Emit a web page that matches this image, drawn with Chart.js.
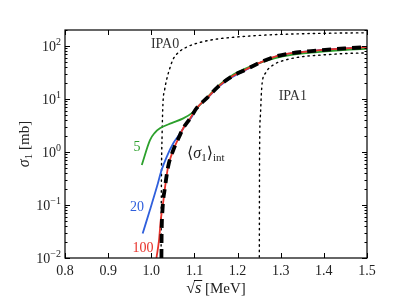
<!DOCTYPE html>
<html>
<head>
<meta charset="utf-8">
<script src="https://cdn.jsdelivr.net/npm/chart.js@4"></script>
<style>
  html, body { margin: 0; padding: 0; background: #fff; }
  #wrap { width: 407px; height: 305px; }
</style>
</head>
<body>
<div id="wrap"><canvas id="sigma"></canvas></div>
<script>
// values
const xTicks = [0.8, 0.9, 1.0, 1.1, 1.2, 1.3, 1.4, 1.5];
const yTicks = [0.01, 0.1, 1, 10, 100];
const yTickExp = ['-2', '-1', '0', '1', '2'];

const intX = [1.0235, 1.024, 1.026, 1.032, 1.039, 1.051, 1.063, 1.074, 1.090, 1.105, 1.132, 1.155, 1.186, 1.217, 1.248, 1.287, 1.325, 1.370, 1.420, 1.460, 1.500];
const intY = [0.01, 0.029, 0.081, 0.22, 0.53, 1.09, 1.81, 2.8, 4.3, 6.7, 11.0, 17.1, 26.3, 35.2, 47, 63, 73, 80, 87, 91, 95];

const n100X = [1.012, 1.018, 1.022, 1.028, 1.032, 1.039, 1.051, 1.063, 1.074, 1.090, 1.105, 1.132, 1.155, 1.186, 1.217, 1.248, 1.287, 1.325, 1.370, 1.420, 1.460, 1.500];
const n100Y = [0.01, 0.022, 0.052, 0.12, 0.22, 0.53, 1.09, 1.81, 2.8, 4.3, 6.7, 11.0, 17.1, 26.3, 35.2, 47, 63, 73, 80, 87, 91, 95];

const n20X = [0.980, 0.997, 1.013, 1.024, 1.036, 1.051, 1.067, 1.082, 1.094, 1.105, 1.132, 1.155, 1.186, 1.217, 1.248, 1.287, 1.325, 1.370, 1.420, 1.460, 1.500];
const n20Y = [0.029, 0.081, 0.22, 0.46, 0.82, 1.46, 2.25, 3.48, 4.6, 6.6, 10.8, 16.7, 25.5, 34.5, 46.5, 62.5, 72.5, 80, 87, 91, 94];

const n5X = [0.978, 0.997, 1.008, 1.020, 1.047, 1.074, 1.094, 1.105, 1.132, 1.155, 1.186, 1.217, 1.248, 1.287, 1.325, 1.370, 1.420, 1.460, 1.500];
const n5Y = [0.57, 1.68, 2.3, 2.8, 3.5, 4.3, 5.4, 6.7, 11.2, 17.6, 27.5, 37, 47, 59, 68, 75, 81, 85, 88];

const ipa0X = [1.0222, 1.0235, 1.025, 1.027, 1.031, 1.036, 1.043, 1.050, 1.065, 1.083, 1.110, 1.152, 1.200, 1.268, 1.350, 1.430, 1.500];
const ipa0Y = [0.001, 0.3, 2, 8, 15, 24, 38, 55, 78, 96, 115, 135, 148, 161, 170, 175, 177];

const ipa1X = [1.2502, 1.251, 1.253, 1.255, 1.257, 1.265, 1.283, 1.310, 1.345, 1.400, 1.450, 1.500];
const ipa1Y = [0.001, 1, 5, 12, 20, 31, 44, 54, 62, 68, 72, 74];

const labelText = ['IPA0', 'IPA1', '5', '20', '100'];
const labelX = [1.032, 1.328, 0.967, 0.967, 0.981];
const labelY = [109, 11, 1.24, 0.092, 0.0155];
const labelColor = ['#333', '#333', '#2ca02c', '#2f5fdc', '#e8322a'];

const GREEN = '#2ca02c', BLUE = '#2f5fdc', RED = '#e8322a';
const SERIF = '"Liberation Serif", "DejaVu Serif", serif';

function pts(xs, ys) { return xs.map((x, i) => ({x: x, y: ys[i]})); }

const decor = {
    id: 'decor',
    afterDatasetsDraw(chart) {
        const ctx = chart.ctx, a = chart.chartArea;
        const xs = chart.scales.x, ys = chart.scales.y;
        ctx.save();
        ctx.strokeStyle = '#000';
        ctx.lineWidth = 1.2;
        ctx.strokeRect(a.left, a.top, a.right - a.left, a.bottom - a.top);
        ctx.lineWidth = 1;
        ctx.beginPath();
        xTicks.forEach(v => {
            const p = Math.round(xs.getPixelForValue(v)) + 0.5;
            ctx.moveTo(p, a.bottom); ctx.lineTo(p, a.bottom - 5);
            ctx.moveTo(p, a.top); ctx.lineTo(p, a.top + 5);
        });
        for (let d = -2; d <= 2; d++) {
            for (let m = 1; m <= 9; m++) {
                const v = m * Math.pow(10, d);
                if (v > ys.max) continue;
                const p = Math.round(ys.getPixelForValue(v)) + 0.5;
                const len = m === 1 ? 5 : 2.5;
                ctx.moveTo(a.left, p); ctx.lineTo(a.left + len, p);
                ctx.moveTo(a.right, p); ctx.lineTo(a.right - len, p);
            }
        }
        ctx.stroke();

        // tick labels
        ctx.fillStyle = '#222';
        ctx.font = '14px ' + SERIF;
        ctx.textAlign = 'center';
        ctx.textBaseline = 'top';
        xTicks.forEach(v => ctx.fillText(v.toFixed(1), xs.getPixelForValue(v), a.bottom + 6));
        yTicks.forEach((v, i) => {
            const p = ys.getPixelForValue(v);
            ctx.font = '10px ' + SERIF;
            const ew = ctx.measureText(yTickExp[i].replace('-', '\u2212')).width;
            ctx.textAlign = 'left';
            ctx.textBaseline = 'alphabetic';
            ctx.fillText(yTickExp[i].replace('-', '\u2212'), a.left - 4 - ew, p - 1);
            ctx.font = '14px ' + SERIF;
            ctx.textAlign = 'right';
            ctx.fillText('10', a.left - 4 - ew, p + 5);
        });

        // axis titles
        ctx.fillStyle = '#222';
        ctx.save();
        ctx.translate(24, (a.top + a.bottom) / 2);
        ctx.rotate(-Math.PI / 2);
        ctx.textBaseline = 'alphabetic';
        ctx.textAlign = 'left';
        ctx.font = 'italic 16px ' + SERIF;
        const w1 = ctx.measureText('\u03c3').width;
        ctx.font = '11px ' + SERIF;
        const w2 = ctx.measureText('1').width;
        ctx.font = '15px ' + SERIF;
        const w3 = ctx.measureText(' [mb]').width;
        let x0 = -(w1 + w2 + w3) / 2;
        ctx.font = 'italic 16px ' + SERIF;
        ctx.fillText('\u03c3', x0, 5);
        ctx.font = '11px ' + SERIF;
        ctx.fillText('1', x0 + w1, 8);
        ctx.font = '15px ' + SERIF;
        ctx.fillText(' [mb]', x0 + w1 + w2, 5);
        ctx.restore();

        const cx = (a.left + a.right) / 2;
        ctx.textAlign = 'left';
        ctx.textBaseline = 'alphabetic';
        ctx.font = '16px ' + SERIF;
        const r = ctx.measureText('\u221a').width;
        ctx.font = 'italic 16px ' + SERIF;
        const sw = ctx.measureText('s').width;
        ctx.font = '15px ' + SERIF;
        const mw = ctx.measureText(' [MeV]').width;
        let bx = cx - (r + sw + mw) / 2, by = 293;
        ctx.font = '16px ' + SERIF;
        ctx.fillText('\u221a', bx, by);
        ctx.font = 'italic 16px ' + SERIF;
        ctx.fillText('s', bx + r, by);
        ctx.beginPath();
        ctx.lineWidth = 0.9;
        ctx.moveTo(bx + r - 1, by - 12.5); ctx.lineTo(bx + r + sw + 1, by - 12.5);
        ctx.stroke();
        ctx.font = '15px ' + SERIF;
        ctx.fillText(' [MeV]', bx + r + sw, by);

        // curve labels
        ctx.textAlign = 'center';
        ctx.textBaseline = 'middle';
        ctx.font = '14px ' + SERIF;
        labelText.forEach((t, i) => {
            ctx.fillStyle = labelColor[i];
            ctx.fillText(t, xs.getPixelForValue(labelX[i]), ys.getPixelForValue(labelY[i]));
        });

        // <sigma_1>_int
        ctx.fillStyle = '#222';
        ctx.textAlign = 'left';
        ctx.textBaseline = 'alphabetic';
        let tx = xs.getPixelForValue(1.083), ty = ys.getPixelForValue(0.95) + 5;
        ctx.font = '16px ' + SERIF;
        ctx.fillText('\u27e8', tx, ty); tx += ctx.measureText('\u27e8').width;
        ctx.font = 'italic 16px ' + SERIF;
        ctx.fillText('\u03c3', tx, ty); tx += ctx.measureText('\u03c3').width;
        ctx.font = '11px ' + SERIF;
        ctx.fillText('1', tx, ty + 3); tx += ctx.measureText('1').width;
        ctx.font = '16px ' + SERIF;
        ctx.fillText('\u27e9', tx, ty); tx += ctx.measureText('\u27e9').width;
        ctx.font = '11px ' + SERIF;
        ctx.fillText('int', tx, ty + 3);
        ctx.restore();
    }
};

const ctx = document.getElementById('sigma').getContext('2d');
new Chart(ctx, {
    type: 'line',
    data: {
        datasets: [
            {label: 'IPA0', data: pts(ipa0X, ipa0Y), order: 5, borderColor: '#000', borderWidth: 1.4, borderDash: [1.4, 4], borderCapStyle: 'round'},
            {label: 'IPA1', data: pts(ipa1X, ipa1Y), order: 5, borderColor: '#000', borderWidth: 1.4, borderDash: [1.4, 4], borderCapStyle: 'round'},
            {label: '5', data: pts(n5X, n5Y), order: 2, borderColor: GREEN, borderWidth: 1.8},
            {label: '20', data: pts(n20X, n20Y), order: 3, borderColor: BLUE, borderWidth: 1.8},
            {label: '100', data: pts(n100X, n100Y), order: 1, borderColor: RED, borderWidth: 1.8},
            {label: 'int', data: pts(intX, intY), order: 0, borderColor: '#000', borderWidth: 3.8, borderDash: [9, 6]}
        ]
    },
    options: {
        animation: false,
        responsive: true,
        maintainAspectRatio: false,
        layout: {padding: {left: 0, right: 40, top: 30, bottom: 0}},
        elements: {
            point: {radius: 0},
            line: {cubicInterpolationMode: 'monotone', fill: false}
        },
        datasets: {line: {clip: 0}},
        plugins: {legend: {display: false}, tooltip: {enabled: false}},
        scales: {
            x: {
                type: 'linear', min: 0.8, max: 1.5,
                grid: {display: false}, border: {display: false},
                ticks: {display: false},
                afterFit: s => { s.height = 47; }
            },
            y: {
                type: 'logarithmic', min: 0.01, max: 200,
                grid: {display: false}, border: {display: false},
                ticks: {display: false},
                afterFit: s => { s.width = 65; }
            }
        }
    },
    plugins: [decor]
});
</script>
</body>
</html>
